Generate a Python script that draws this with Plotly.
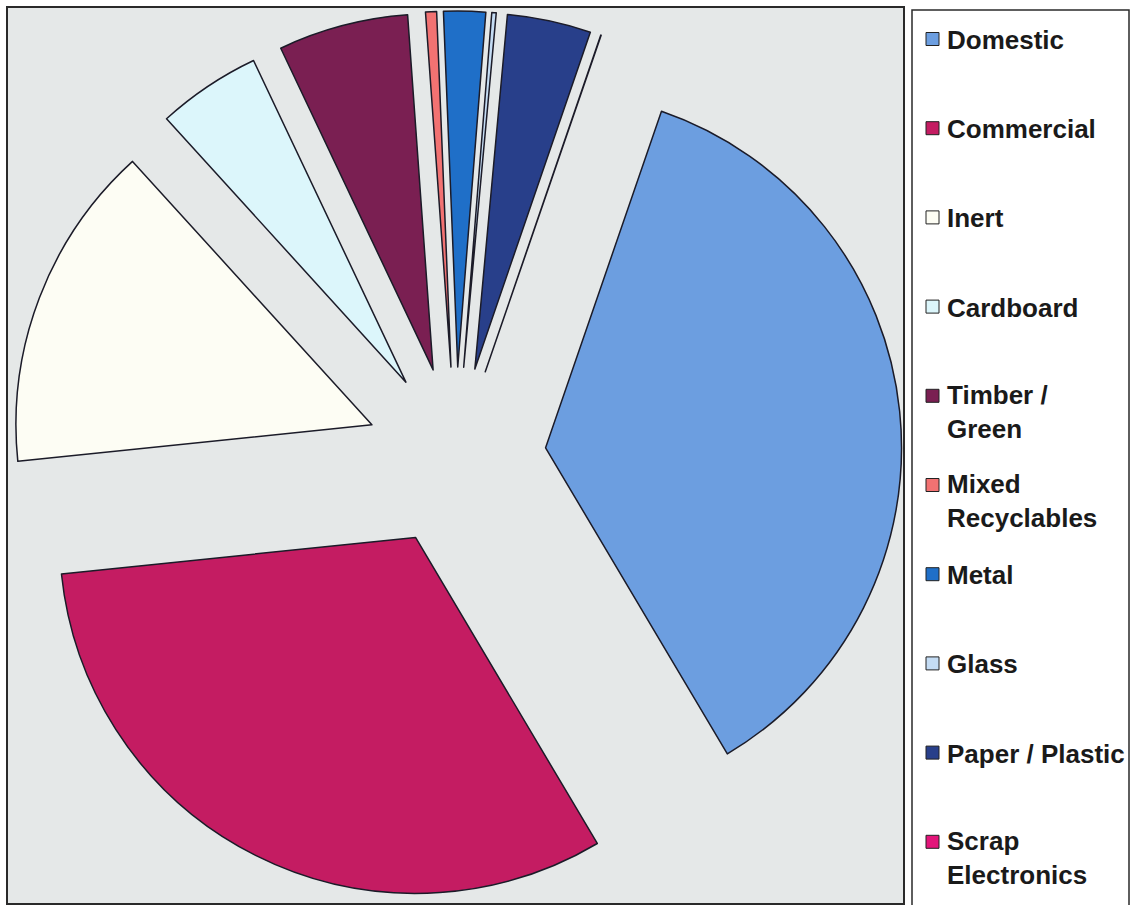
import plotly.graph_objects as go

# Waste stream composition (% of total)
categories = ["Domestic", "Commercial", "Inert", "Cardboard", "Timber / Green",
              "Mixed Recyclables", "Metal", "Glass", "Paper / Plastic", "Scrap Electronics"]
shares = [36.2, 31.9, 14.9, 4.7, 5.9, 0.5, 1.9, 0.2, 3.8, 0.02]
legend_labels = ["Domestic", "Commercial", "Inert", "Cardboard", "Timber /<br>Green",
                 "Mixed<br>Recyclables", "Metal", "Glass", "Paper / Plastic", "Scrap<br>Electronics"]
colors = ["#6c9ee0", "#c41c62", "#fdfdf4", "#dcf6fb", "#7a1f52",
          "#f27272", "#1f6fc8", "#c4dcf4", "#283f8a", "#e3157a"]

W, H = 1131, 905


def px(x):
    return x / W


def py(y):
    return 1 - y / H


fig = go.Figure()

# exploded pie; every slice pulled out by the same amount
cx, cy, half = 456, 457, 446
fig.add_trace(go.Pie(
    labels=categories,
    values=shares,
    sort=False,
    direction="clockwise",
    rotation=19,
    pull=[0.253] * len(categories),
    marker=dict(colors=colors, line=dict(color="#1b1b28", width=1.5)),
    textinfo="none",
    hoverinfo="label+percent",
    showlegend=False,
    domain=dict(x=[px(cx - half), px(cx + half)], y=[py(cy + half), py(cy - half)]),
))

shapes = [
    # plot area
    dict(type="rect", xref="paper", yref="paper", layer="below",
         x0=px(7), x1=px(904), y0=py(904), y1=py(7),
         fillcolor="#e5e8e8", line=dict(color="#2a2a2a", width=2)),
    # legend box
    dict(type="rect", xref="paper", yref="paper", layer="below",
         x0=px(912), x1=px(1129), y0=py(906), y1=py(10),
         fillcolor="#ffffff", line=dict(color="#2a2a2a", width=1.5)),
]

annotations = []
font_size = 26
line_h = 31
for i, (lab, col) in enumerate(zip(legend_labels, colors)):
    yc = 39 + 89.2 * i
    shapes.append(dict(type="rect", xref="paper", yref="paper",
                       x0=px(926), x1=px(939), y0=py(yc + 6.5), y1=py(yc - 6.5),
                       fillcolor=col, line=dict(color="#222222", width=1)))
    n_lines = lab.count("<br>") + 1
    ymid = yc + (n_lines - 1) * line_h / 2
    annotations.append(dict(
        xref="paper", yref="paper", x=px(945), y=py(ymid + 1),
        xanchor="left", yanchor="middle", align="left", showarrow=False,
        text=f"<b>{lab}</b>",
        font=dict(family="Liberation Sans, Arial, sans-serif", size=font_size, color="#1a1a1a"),
    ))

fig.update_layout(
    width=W, height=H,
    margin=dict(l=0, r=0, t=0, b=0),
    paper_bgcolor="#ffffff",
    plot_bgcolor="#ffffff",
    shapes=shapes,
    annotations=annotations,
)

fig.write_html("out.html")
